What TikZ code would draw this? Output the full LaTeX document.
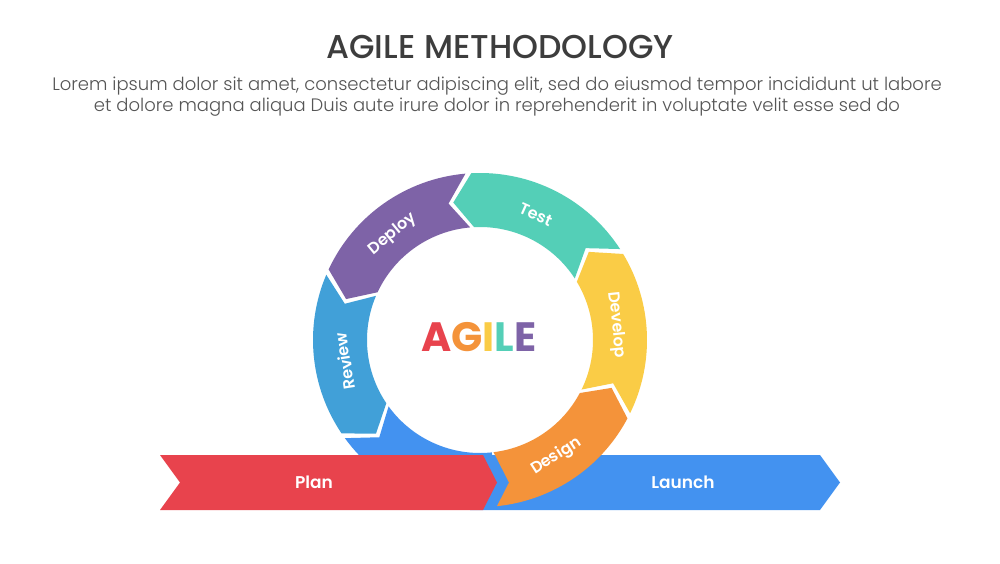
\documentclass[tikz,border=0pt]{standalone}
\usepackage{fontspec}
\setmainfont{Poppins}
\IfFontExistsTF{Poppins SemiBold}{\newfontfamily\fsemi{Poppins SemiBold}}{\newcommand\fsemi{\bfseries}}
\IfFontExistsTF{Poppins Medium}{\newfontfamily\fmed{Poppins Medium}}{\newcommand\fmed{\bfseries}}
\IfFontExistsTF{Poppins Light}{\newfontfamily\flight{Poppins Light}}{\newcommand\flight{}}
\definecolor{cRed}{HTML}{E8434D}
\definecolor{cOrange}{HTML}{F4933A}
\definecolor{cYellow}{HTML}{FACC46}
\definecolor{cTeal}{HTML}{54CFB7}
\definecolor{cPurple}{HTML}{7E63A7}
\definecolor{cLBlue}{HTML}{41A0D8}
\definecolor{cBlue}{HTML}{4392F0}
\definecolor{cTitle}{HTML}{3D3D3D}
\definecolor{cSub}{HTML}{555555}
\newcommand\rIn{113pt}
\newcommand\rOut{167pt}
\newcommand\rMid{140pt}
\newcommand\dAng{8}
% segment: colour, start angle (notch), end angle (tip)
\newcommand\ringseg[3]{%
  \fill[#1] (#2:\rOut) -- ({#2+\dAng}:\rMid) -- (#2:\rIn)
    arc[start angle=#2, end angle=#3, radius=\rIn]
    -- ({#3+\dAng}:\rMid) -- (#3:\rOut)
    arc[start angle=#3, end angle=#2, radius=\rOut] -- cycle;}
\tikzset{
  seglabel/.style={text=white, font=\fsemi\fontsize{16}{19}\selectfont, inner sep=0pt},
  barlabel/.style={text=white, font=\fsemi\fontsize{17}{20}\selectfont, inner sep=0pt},
  subline/.style={text=cSub, font=\flight\fontsize{18}{22}\selectfont, inner sep=0pt},
}
\begin{document}
\begin{tikzpicture}[x=1pt,y=1pt]
\useasboundingbox (0,0) rectangle (1000,563);
\fill[white] (0,0) rectangle (1000,563);

\node[text=cTitle, font=\fmed\fontsize{33}{38}\selectfont, inner sep=0pt] (title) at (500,516) {AGILE METHODOLOGY};
\node[subline] (sub1) at (497,477) {Lorem ipsum dolor sit amet, consectetur adipiscing elit, sed do eiusmod tempor incididunt ut labore};
\node[subline] (sub2) at (497,456) {et dolore magna aliqua Duis aute irure dolor in reprehenderit in voluptate velit esse sed do};

% blue lower-left segment
\begin{scope}[shift={(480,223)}]
  \fill[cBlue] (216:\rOut) -- ({216+\dAng}:\rMid) -- (216:\rIn)
    arc[start angle=216, end angle=276, radius=\rIn]
    -- (276:\rOut) arc[start angle=276, end angle=216, radius=\rOut] -- cycle;
\end{scope}

% Launch bar
\fill[cBlue] (470,108) -- (820,108) -- (840,80.5) -- (820,53) -- (470,53) -- cycle;

% Design segment (orange) clipped by chevron notch
\begin{scope}
  \clip (478.7,140) -- (509,80.5) -- (488.4,40) -- (800,40) -- (800,400) -- (478.7,400) -- cycle;
  \begin{scope}[shift={(480,223)}]
    \ringseg{cOrange}{250}{332}
  \end{scope}
\end{scope}

\begin{scope}[shift={(480,223)}]
  \ringseg{cYellow}{-26}{31}
  \ringseg{cTeal}{33}{93}
  \ringseg{cPurple}{95}{155}
  \ringseg{cLBlue}{157}{214}

  \node[seglabel, rotate=-24] (test) at (66:137pt) {Test};
  \node[seglabel, rotate=39.5] (deploy) at (129.5:137pt) {Deploy};
  \node[seglabel, rotate=99] (review) at (189:137pt) {Review};
  \node[seglabel, rotate=-84] (develop) at (6.3:137pt) {Develop};
  \node[seglabel, rotate=33] (design) at (-56.7:139pt) {Design};
\end{scope}

% Plan bar
\fill[cRed] (160,108) -- (483,108) -- (497,80.5) -- (483,53) -- (160,53) -- (180,80.5) -- cycle;
\node[barlabel] (plan) at (314,80.5) {Plan};
\node[barlabel] (launch) at (683,80.5) {Launch};

\node[font=\bfseries\fontsize{41}{46}\selectfont, inner sep=0pt] (agile) at (479,226)
  {\textcolor{cRed}{A}\textcolor{cOrange}{G}\textcolor{cYellow}{I}\textcolor{cTeal}{L}\textcolor{cPurple}{E}};
\end{tikzpicture}
\end{document}
